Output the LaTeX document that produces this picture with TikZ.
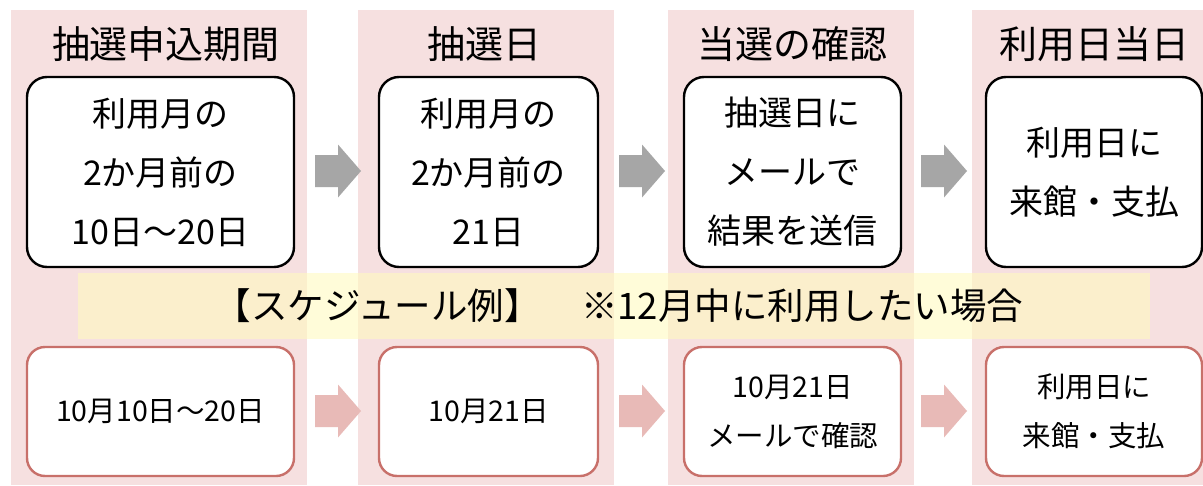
\documentclass[tikz,border=0pt]{standalone}
\usepackage{fontspec}
\setmainfont{Noto Sans CJK JP}
\definecolor{bgpink}{HTML}{F6E0E0}
\definecolor{bandyellow}{HTML}{FFFAC0}
\definecolor{arrowgray}{HTML}{A6A6A6}
\definecolor{arrowpink}{HTML}{E8BAB7}
\definecolor{boxred}{HTML}{C8706A}
\tikzset{
  colbg/.style={fill=bgpink},
  header/.style={font=\fontsize{38}{42}\selectfont, inner sep=0pt},
  topbox/.style={draw=black, line width=2.4pt, fill=white, rounded corners=20pt,
    align=center, minimum height=190pt, inner sep=0pt,
    font=\fontsize{34}{59}\selectfont},
  botbox/.style={draw=boxred, line width=2.4pt, fill=white, rounded corners=18pt,
    align=center, minimum height=129pt, inner sep=0pt,
    font=\fontsize{28.5}{49}\selectfont},
  bandtext/.style={font=\fontsize{36.5}{40}\selectfont, inner sep=0pt},
}
\newcommand\blockarrow[3]{% x-left, y-center, color
  \fill[#3] (#1,#2-16) -- (#1+23,#2-16) -- (#1+23,#2-26.5) -- (#1+46,#2)
    -- (#1+23,#2+26.5) -- (#1+23,#2+16) -- (#1,#2+16) -- cycle;}
\begin{document}
\begin{tikzpicture}[x=1pt,y=-1pt]
\useasboundingbox (0,0) rectangle (1203,485);
\fill[white] (0,0) rectangle (1203,485);
% column backgrounds
\fill[colbg] (11,10) rectangle (307,485);
\fill[colbg] (358,10) rectangle (614,485);
\fill[colbg] (668,10) rectangle (914,485);
\fill[colbg] (972,10) rectangle (1203,485);
% headers
\node[header] (h1) at (166,44) {抽選申込期間};
\node[header] (h2) at (484,44) {抽選日};
\node[header] (h3) at (792,44) {当選の確認};
\node[header] (h4) at (1094,44) {利用日当日};
% band
\fill[bandyellow, fill opacity=0.6] (78,273) rectangle (1150,339);
\node[bandtext] (band) at (619,306) {【スケジュール例】\hspace{1.1em}※12月中に利用したい場合};
% top boxes
\node[topbox, minimum width=267pt] (t1) at (160.5,172) {利用月の\\2か月前の\\10日～20日};
\node[topbox, minimum width=219pt] (t2) at (488.5,172) {利用月の\\2か月前の\\21日};
\node[topbox, minimum width=217pt] (t3) at (792.5,172) {抽選日に\\メールで\\結果を送信};
\node[topbox, minimum width=216pt] (t4) at (1094,172) {利用日に\\来館・支払};
% bottom boxes
\node[botbox, minimum width=267pt] (b1) at (160.5,411.5) {10月10日～20日};
\node[botbox, minimum width=219pt] (b2) at (488.5,411.5) {10月21日};
\node[botbox, minimum width=217pt] (b3) at (792.5,411.5) {10月21日\\メールで確認};
\node[botbox, minimum width=216pt] (b4) at (1094,411.5) {利用日に\\来館・支払};
% arrows
\blockarrow{315}{171}{arrowgray}
\blockarrow{619}{171}{arrowgray}
\blockarrow{921}{171}{arrowgray}
\blockarrow{315}{411}{arrowpink}
\blockarrow{619}{411}{arrowpink}
\blockarrow{921}{411}{arrowpink}
\end{tikzpicture}
\end{document}
